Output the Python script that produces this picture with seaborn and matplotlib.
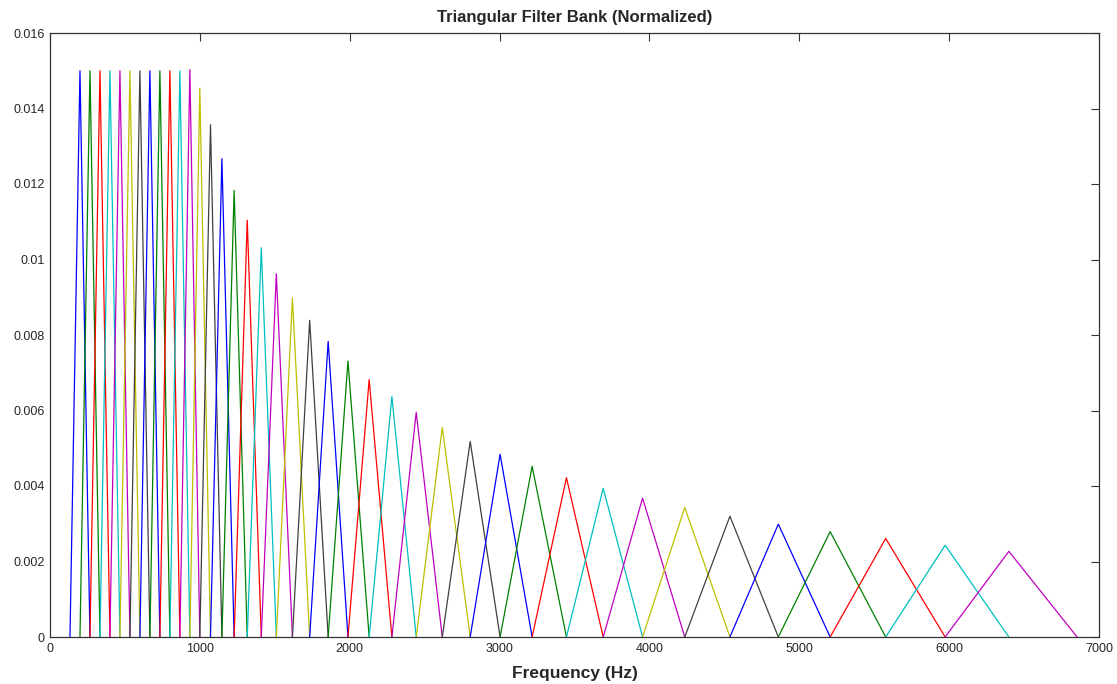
#! /usr/bin/env python3

import pandas as pd
import matplotlib as mpl
mpl.use('agg')
import matplotlib.pyplot as plt
import seaborn as sns
sns.set_style('white')
plt.rcParams['font.family'] = ['Liberation Sans', 'DejaVu Sans']

# --- band edges of the filter bank (Hz)
edges = [133.33, 200.00, 266.67, 333.33, 400.00, 466.67, 533.33, 600.00,
         666.67, 733.33, 800.00, 866.67, 933.33, 999.75, 1070.90, 1147.12,
         1228.76, 1316.21, 1409.89, 1510.23, 1617.71, 1732.85, 1856.18,
         1988.29, 2129.80, 2281.38, 2443.75, 2617.67, 2803.98, 3003.54,
         3217.30, 3446.28, 3691.55, 3954.28, 4235.71, 4537.17, 4860.09,
         5205.99, 5576.50, 5973.38, 6398.51, 6853.90]

# --- peak height of each triangle
peaks = [0.01500, 0.01500, 0.01500, 0.01500, 0.01500, 0.01500, 0.01500,
         0.01500, 0.01500, 0.01500, 0.01500, 0.01503, 0.01454, 0.01357,
         0.01267, 0.01183, 0.01104, 0.01031, 0.00962, 0.00898, 0.00839,
         0.00783, 0.00731, 0.00682, 0.00637, 0.00595, 0.00555, 0.00518,
         0.00484, 0.00452, 0.00422, 0.00394, 0.00368, 0.00343, 0.00320,
         0.00299, 0.00279, 0.00261, 0.00243, 0.00227]

x_ticks = [0, 1000, 2000, 3000, 4000, 5000, 6000, 7000]
y_ticks = [0, 0.002, 0.004, 0.006, 0.008, 0.01, 0.012, 0.014, 0.016]
y_labels = ['0', '0.002', '0.004', '0.006', '0.008', '0.01', '0.012', '0.014', '0.016']

# matlab old default color order
matlab_colors = [(0, 0, 1), (0, 0.5, 0), (1, 0, 0), (0, 0.75, 0.75),
                 (0.75, 0, 0.75), (0.75, 0.75, 0), (0.25, 0.25, 0.25)]


def main():
    rows = []
    for i, h in enumerate(peaks):
        rows.append({'freq': edges[i], 'w': 0.0, 'filt': i})
        rows.append({'freq': edges[i + 1], 'w': h, 'filt': i})
        rows.append({'freq': edges[i + 2], 'w': 0.0, 'filt': i})
    df = pd.DataFrame(rows)

    palette = [matlab_colors[i % len(matlab_colors)] for i in range(len(peaks))]

    fig = plt.figure(figsize=(11.17, 6.84), dpi=100)
    ax = fig.add_axes([50 / 1117, 47 / 684, 1049 / 1117, 604 / 684])

    sns.lineplot(data=df, x='freq', y='w', hue='filt', palette=palette,
                 estimator=None, legend=False, linewidth=0.9, ax=ax)

    ax.set_xlim(0, 7000)
    ax.set_ylim(0, 0.016)
    ax.set_xticks(x_ticks)
    ax.set_xticklabels([str(t) for t in x_ticks])
    ax.set_yticks(y_ticks)
    ax.set_yticklabels(y_labels)
    ax.tick_params(direction='in', top=True, right=True, length=6,
                   width=0.8, labelsize=9, color='#333333', pad=4)
    for s in ax.spines.values():
        s.set_color('#333333')
        s.set_linewidth(0.9)

    ax.set_xlabel('Frequency (Hz)', fontsize=12.5, fontweight='bold', labelpad=8)
    ax.set_ylabel('')
    ax.set_title('Triangular Filter Bank (Normalized)', fontsize=12,
                 fontweight='bold', pad=8)

    plt.savefig('out.png', dpi=100)
    plt.close(fig)


if __name__ == "__main__":
    main()
